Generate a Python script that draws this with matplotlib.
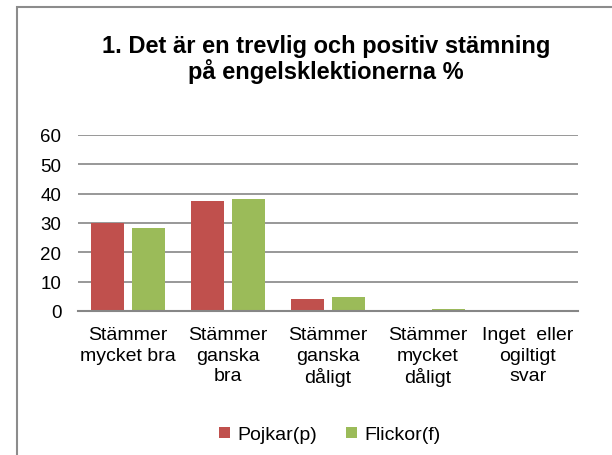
import numpy as np
import matplotlib.pyplot as plt
from matplotlib.patches import Rectangle

plt.rcParams['font.family'] = ['Liberation Sans', 'DejaVu Sans']

# data
categories = ['Stämmer\nmycket bra', 'Stämmer\nganska\nbra', 'Stämmer\nganska\ndåligt',
              'Stämmer\nmycket\ndåligt', 'Inget  eller\nogiltigt\nsvar']
pojkar = [30.0, 37.5, 4.2, 0.3, 0.3]
flickor = [28.4, 38.2, 4.7, 0.8, 0.0]
yticks = [0, 10, 20, 30, 40, 50, 60]

fig = plt.figure(figsize=(6.12, 4.56), dpi=100)
ax = fig.add_axes([78 / 612, 1 - 312 / 456, 500 / 612, 176 / 456])

# outer chart border (right and bottom edges run off the image)
fig.patches.append(Rectangle((17 / 612, -0.1), 1.2, 1 - 8 / 456 + 0.1,
                             transform=fig.transFigure, fill=False,
                             edgecolor='#8c8c8c', linewidth=1.5))

x = np.arange(len(categories))
w = 0.33
ax.bar(x - 0.205, pojkar, w, color='#C0504D', label='Pojkar(p)', zorder=3)
ax.bar(x + 0.205, flickor, w, color='#9BBB59', label='Flickor(f)', zorder=3)

ax.set_xlim(-0.5, len(categories) - 0.5)
ax.set_ylim(0, 60)
ax.set_yticks(yticks)
ax.set_yticklabels([str(v) for v in yticks], fontsize=13.5)
ax.set_xticks(x)
ax.set_xticklabels(categories, fontsize=14, linespacing=1.25)
ax.tick_params(axis='x', length=0, pad=11)
ax.tick_params(axis='y', length=0, pad=12)
ax.yaxis.grid(True, color='#868686', linewidth=1.2, zorder=0)
for s in ['top', 'right', 'left']:
    ax.spines[s].set_visible(False)
ax.spines['bottom'].set_color('#868686')
ax.spines['bottom'].set_linewidth(1.5)
ax.spines['bottom'].set_zorder(4)

fig.text(326 / 612, 1 - 60 / 456, '1. Det är en trevlig och positiv stämning\npå engelsklektionerna %',
         ha='center', va='center', fontsize=17, fontweight='bold', linespacing=1.05)

fig.legend(loc='center', bbox_to_anchor=(330 / 612, 1 - 436 / 456), ncol=2, frameon=False,
           fontsize=14, handlelength=0.55, handleheight=0.55, handletextpad=0.4,
           columnspacing=1.5)

fig.savefig('out.png', dpi=100)
